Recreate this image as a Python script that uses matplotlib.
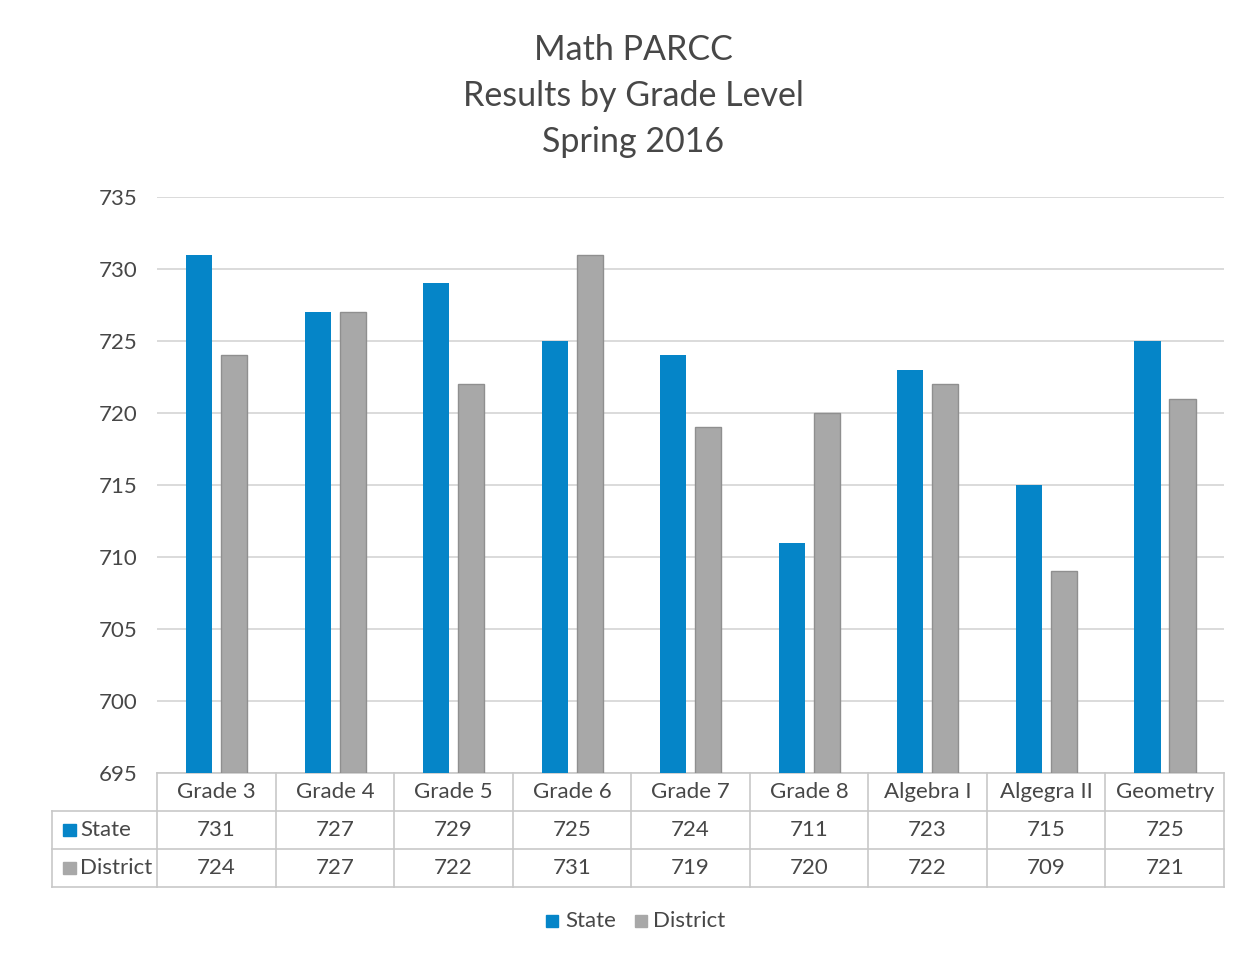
import matplotlib.pyplot as plt
from matplotlib.patches import Rectangle
import numpy as np

plt.rcParams['font.family'] = ['Lato', 'DejaVu Sans']

categories = ['Grade 3', 'Grade 4', 'Grade 5', 'Grade 6', 'Grade 7',
              'Grade 8', 'Algebra I', 'Algegra II', 'Geometry']
state = [731, 727, 729, 725, 724, 711, 723, 715, 725]
district = [724, 727, 722, 731, 719, 720, 722, 709, 721]
series_names = ['State', 'District']

blue = '#0585c8'
gray = '#a8a8a8'
txt = '#474747'
line_c = '#c8c8c8'
fs = 16

fig = plt.figure(figsize=(12.47, 9.56), dpi=100)
# axes placed in pixel terms: x 157..1224, y 197..773
W, H = 1247, 956
ax = fig.add_axes([157 / W, 1 - 773 / H, (1224 - 157) / W, (773 - 197) / H])

x = np.arange(len(categories))
bw = 0.22
base = 695
ax.bar(x - 0.145, np.array(state) - base, bw, bottom=base, color=blue, zorder=3)
ax.bar(x + 0.15, np.array(district) - base, bw, bottom=base, color=gray,
       edgecolor='#8f8f8f', linewidth=1, zorder=3)

ax.set_xlim(-0.5, len(categories) - 0.5)
ax.set_ylim(695, 735)
ax.set_yticks(range(695, 736, 5))
ax.yaxis.grid(True, color='#d4d4d4', linewidth=1.2)
ax.set_axisbelow(True)
for s in ax.spines.values():
    s.set_visible(False)
ax.tick_params(axis='y', length=0, pad=14, labelsize=fs, labelcolor=txt)
ax.set_xticks([])

# data table below the axes
trans = ax.get_xaxis_transform()
row_h = 38 / 576
left = -0.5 - 105 / 118.5
n = len(categories)
for i in range(n + 1):
    ax.plot([i - 0.5, i - 0.5], [0, -3 * row_h], color=line_c, lw=1.2,
            transform=trans, clip_on=False)
ax.plot([left, left], [-row_h, -3 * row_h], color=line_c, lw=1.2,
        transform=trans, clip_on=False)
ax.plot([-0.5, n - 0.5], [0, 0], color=line_c, lw=1.2, transform=trans, clip_on=False)
for k in (1, 2, 3):
    ax.plot([left, n - 0.5], [-k * row_h, -k * row_h], color=line_c, lw=1.2,
            transform=trans, clip_on=False)

for i, c in enumerate(categories):
    ax.text(i, -0.5 * row_h, c, transform=trans, ha='center', va='center',
            fontsize=fs, color=txt)
    ax.text(i, -1.5 * row_h, str(state[i]), transform=trans, ha='center',
            va='center', fontsize=fs, color=txt)
    ax.text(i, -2.5 * row_h, str(district[i]), transform=trans, ha='center',
            va='center', fontsize=fs, color=txt)

for k, (name, col) in enumerate(zip(series_names, [blue, gray])):
    yc = -(1.5 + k) * row_h
    ax.add_patch(Rectangle((left + 0.09, yc - 0.011), 0.11, 0.022, color=col,
                           transform=trans, clip_on=False))
    ax.text(left + 0.24, yc, name, transform=trans, ha='left', va='center',
            fontsize=fs, color=txt)

# title
for j, line in enumerate(['Math PARCC', 'Results by Grade Level', 'Spring 2016']):
    fig.text(633 / W, 1 - (50 + 46 * j) / H, line, ha='center', va='center',
             fontsize=24.5, color=txt)

# legend
fig.patches.append(Rectangle((546 / W, 1 - 927 / H), 12 / W, 12 / H, color=blue,
                             transform=fig.transFigure))
fig.text(565 / W, 1 - 921 / H, 'State', ha='left', va='center', fontsize=fs, color=txt)
fig.patches.append(Rectangle((635 / W, 1 - 927 / H), 12 / W, 12 / H, color=gray,
                             transform=fig.transFigure))
fig.text(653 / W, 1 - 921 / H, 'District', ha='left', va='center', fontsize=fs, color=txt)

fig.savefig('out.png', dpi=100)
